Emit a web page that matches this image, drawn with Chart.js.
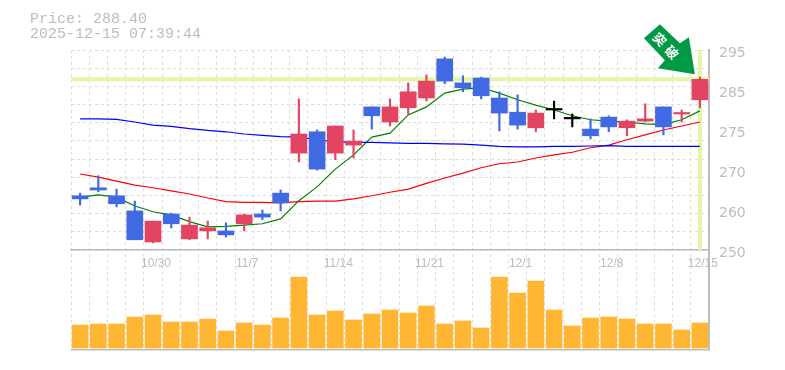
<!DOCTYPE html>
<html lang="en">
<head>
<meta charset="UTF-8">
<title>Price chart</title>
<style>
    body { margin: 0; background: #fff; }
    canvas { display: block; }
</style>
</head>
<body>
<canvas id="chart" width="785" height="370"></canvas>
<script src="https://cdn.jsdelivr.net/npm/chart.js"></script>
<script>
// x labels, only every 5th session is labelled
const dates = ['', '', '', '', '10/30', '', '', '', '', '11/7', '', '', '', '', '11/14', '', '', '', '', '11/21',
    '', '', '', '', '12/1', '', '', '', '', '12/8', '', '', '', '', '12/15'];

const opens = [262.2, 264.0, 262.2, 258.8, 251.8, 258.1, 252.5, 254.3, 254.3, 255.9, 258.1, 262.8, 271.8, 276.6, 271.8, 273.6, 282.2, 278.8,
    282.0, 284.2, 293.0, 287.6, 288.7, 284.2, 281.0, 277.5, 281.5, 279.5, 277.2, 279.9, 277.5, 279.0, 282.2, 280.6, 283.8];
const closes = [261.5, 263.5, 260.4, 252.3, 256.5, 255.9, 255.6, 255.0, 253.4, 257.9, 257.4, 260.6, 276.1, 268.2, 277.9, 274.5, 280.2, 282.2,
    285.6, 288.0, 288.0, 286.5, 284.7, 280.8, 278.1, 280.8, 281.5, 279.5, 275.7, 277.7, 279.0, 279.5, 277.7, 280.8, 288.4];
const highs = [262.8, 266.7, 263.7, 261.0, 256.5, 258.3, 257.4, 256.5, 256.1, 258.1, 259.0, 263.5, 284.0, 277.0, 277.9, 277.0, 282.2, 284.0,
    287.6, 289.4, 293.4, 289.2, 288.9, 285.6, 284.9, 281.5, 283.5, 280.6, 279.5, 280.2, 279.3, 282.9, 282.2, 281.5, 288.9];
const lows = [260.1, 263.1, 259.7, 252.3, 251.6, 255.0, 252.3, 252.5, 252.9, 254.3, 256.8, 258.8, 269.8, 268.0, 270.3, 270.7, 277.2, 277.9,
    280.6, 283.5, 287.4, 285.6, 284.0, 276.8, 277.2, 276.6, 279.5, 277.7, 275.0, 276.6, 275.7, 278.8, 275.9, 278.8, 282.0];

const maGreen = [261.9, 262.4, 261.9, 259.9, 258.6, 257.9, 256.4, 255.2, 255.3, 255.6, 255.9, 257.0, 261.1, 264.2, 268.2, 271.4, 275.4, 276.3,
    280.4, 282.2, 285.3, 286.2, 286.5, 285.3, 283.8, 282.6, 281.5, 280.2, 279.3, 279.0, 278.8, 278.4, 278.2, 279.3, 281.3];
const maRed = [267.1, 266.4, 265.5, 264.6, 264.0, 263.3, 262.6, 261.7, 260.9, 260.7, 260.7, 260.6, 260.9, 261.0, 261.0, 261.5, 262.2, 263.0,
    263.7, 265.0, 266.2, 267.3, 268.5, 269.4, 269.8, 270.7, 271.4, 272.0, 273.0, 273.6, 274.8, 275.9, 277.0, 277.9, 278.8];
const maBlue = [279.5, 279.5, 279.4, 278.8, 278.1, 277.8, 277.3, 276.9, 276.6, 276.1, 275.8, 275.5, 275.4, 274.8, 274.4, 274.2, 274.2, 274.1,
    274.0, 274.0, 273.9, 273.8, 273.6, 273.3, 273.2, 273.2, 273.3, 273.3, 273.4, 273.5, 273.3, 273.3, 273.3, 273.3, 273.3];

const volumes = [23, 24, 24, 31, 33, 26, 26, 29, 17, 25, 23, 30, 71, 33, 37, 28, 34, 38,
    35, 42, 24, 27, 20, 71, 55, 67, 38, 22, 30, 31, 29, 24, 24, 18, 25];

// price ticks sit every 9 units but the chart rounds what it prints to the nearest 5
const priceTicks = [295, 286, 277, 268, 259, 250];
const priceLabels = ['295', '285', '275', '270', '260', '250'];
const gridDivisions = 11;

const lastPrice = 288.40;
const titleLines = ['Price: 288.40', '2025-12-15 07:39:44'];
const signalText = ['突', '破'];

const GRAY = '#bcbcbc';
const GRID = '#dddddd';
const BAND = '#e4f5a8';
const UP = '#e24462';
const DOWN = '#4169e1';

function candleColor(i) {
    if (closes[i] > opens[i]) return UP;
    if (closes[i] < opens[i]) return DOWN;
    return '#000000';
}

// highlight bands behind the candles, through the scales
const bandPlugin = {
    id: 'bands',
    beforeDatasetsDraw(chart) {
        const { ctx, chartArea, scales } = chart;
        const y = scales.y.getPixelForValue(lastPrice);
        const x = scales.x.getPixelForValue(dates.length - 1);
        ctx.save();
        ctx.fillStyle = BAND;
        ctx.fillRect(chartArea.left, y - 2, chartArea.right - chartArea.left, 4);
        ctx.fillRect(x - 2, scales.y.top, 4, scales.y.bottom - scales.y.top);
        ctx.restore();
    }
};

// title in the corner and the green signal arrow on the last candle
const overlayPlugin = {
    id: 'overlay',
    afterDraw(chart) {
        const { ctx, scales } = chart;
        ctx.save();
        ctx.fillStyle = GRAY;
        ctx.font = '15px "Liberation Mono"';
        ctx.textBaseline = 'alphabetic';
        ctx.fillText(titleLines[0], 30, 23);
        ctx.fillText(titleLines[1], 30, 38);

        const tipX = scales.x.getPixelForValue(dates.length - 1) - 5;
        const tipY = scales.y.getPixelForValue(lastPrice) - 5;
        const shape = [[0, 0], [-37, -6], [-30, -14], [-51, -36], [-35, -50], [-15, -31], [-6, -37]];
        ctx.translate(tipX, tipY);
        ctx.fillStyle = '#009944';
        ctx.beginPath();
        shape.forEach((p, i) => i ? ctx.lineTo(p[0], p[1]) : ctx.moveTo(p[0], p[1]));
        ctx.closePath();
        ctx.fill();
        ctx.fillStyle = '#ffffff';
        ctx.font = 'bold 13px "Noto Sans CJK JP"';
        ctx.textAlign = 'center';
        ctx.textBaseline = 'middle';
        [[-35, -35], [-23, -22]].forEach((p, i) => {
            ctx.save();
            ctx.translate(p[0], p[1]);
            ctx.rotate(Math.PI / 4);
            ctx.fillText(signalText[i], 0, 0);
            ctx.restore();
        });
        ctx.restore();
    }
};

function maLine(values, color) {
    return {
        type: 'line',
        data: values,
        yAxisID: 'y',
        borderColor: color,
        borderWidth: 1.2,
        pointRadius: 0,
        tension: 0,
        order: 5
    };
}

new Chart(document.getElementById('chart'), {
    data: {
        labels: dates,
        datasets: [
            maLine(maBlue, '#0000ff'),
            maLine(maRed, '#ff0000'),
            maLine(maGreen, '#008000'),
            {
                // wicks
                type: 'bar',
                data: highs.map((h, i) => [lows[i], h]),
                yAxisID: 'y',
                grouped: false,
                barThickness: 1.5,
                backgroundColor: dates.map((d, i) => candleColor(i)),
                order: 2
            },
            {
                // bodies
                type: 'bar',
                data: opens.map((o, i) => [o, closes[i]]),
                yAxisID: 'y',
                grouped: false,
                barThickness: 16,
                minBarLength: 1.5,
                backgroundColor: dates.map((d, i) => candleColor(i)),
                order: 1
            },
            {
                type: 'bar',
                data: volumes,
                yAxisID: 'yVol',
                grouped: false,
                barThickness: 16,
                backgroundColor: '#ffb733',
                order: 3
            }
        ]
    },
    options: {
        responsive: false,
        animation: false,
        layout: { padding: { left: 71, top: 50, bottom: 20, right: 0 } },
        plugins: { legend: { display: false }, tooltip: { enabled: false } },
        scales: {
            x: {
                position: { y: 250 },
                offset: true,
                grid: { offset: true, color: GRID, tickLength: 0 },
                border: { color: GRAY, width: 1.5, dash: [3, 3] },
                ticks: {
                    autoSkip: false,
                    maxRotation: 0,
                    color: GRAY,
                    padding: 6,
                    labelOffset: 3,
                    font: { family: '"Liberation Sans"', size: 12 }
                }
            },
            y: {
                position: 'right',
                stack: 'panels',
                stackWeight: 2,
                min: 250,
                max: 295,
                afterFit(scale) { scale.width = 76; },
                afterBuildTicks(scale) {
                    const grid = [];
                    for (let i = 0; i <= gridDivisions; i++) grid.push(295 - i * 45 / gridDivisions);
                    const extra = priceTicks.filter(v => v !== 295 && v !== 250);
                    scale.ticks = grid.concat(extra).map(value => ({ value }));
                },
                grid: {
                    tickLength: 0,
                    color: ctx => (ctx.tick && priceTicks.includes(ctx.tick.value) && ctx.tick.value !== 295 && ctx.tick.value !== 250) ? 'transparent' : GRID
                },
                border: { color: GRAY, width: 2, dash: [3, 3] },
                ticks: {
                    autoSkip: false,
                    padding: 10,
                    labelOffset: 3,
                    color: GRAY,
                    font: { family: '"DejaVu Sans"', size: 14 },
                    callback(value) {
                        const idx = priceTicks.indexOf(value);
                        return idx >= 0 ? priceLabels[idx] : '';
                    }
                }
            },
            yVol: {
                position: 'right',
                stack: 'panels',
                stackWeight: 1,
                min: -2,
                max: 98,
                afterFit(scale) { scale.width = 76; },
                // only the baseline of the volume panel is drawn
                afterBuildTicks(scale) { scale.ticks = [{ value: -2 }]; },
                grid: { color: GRAY, lineWidth: 1.5, tickLength: 0 },
                border: { color: GRAY, width: 2 },
                ticks: { display: false }
            }
        }
    },
    plugins: [bandPlugin, overlayPlugin]
});
</script>
</body>
</html>
